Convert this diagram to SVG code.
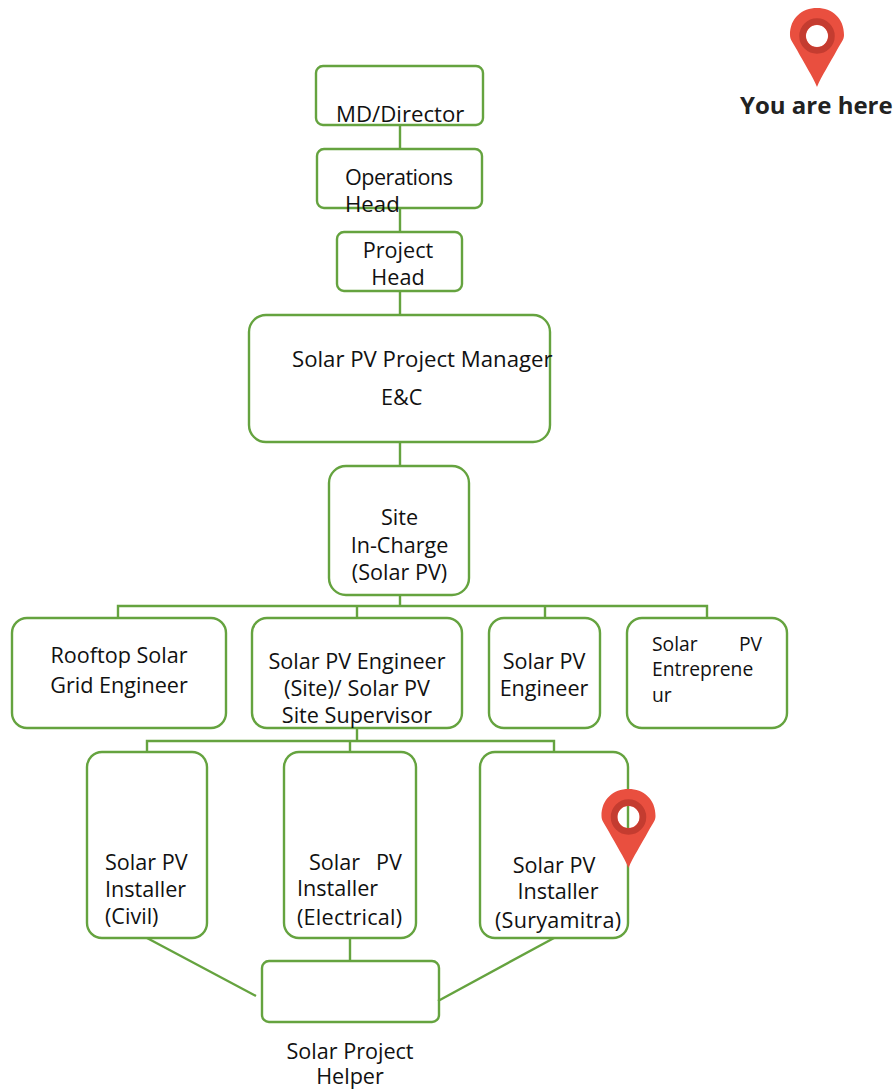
<svg xmlns="http://www.w3.org/2000/svg" width="895" height="1090" viewBox="0 0 895 1090">
<style>
.b{fill:none;stroke:#65a33f;stroke-width:2.4}
.c{fill:none;stroke:#65a33f;stroke-width:2.4}
text{font-family:"Open Sans","Liberation Sans",sans-serif;font-size:21.6px;fill:#111}
.m{text-anchor:middle}
.s{font-size:19.3px}
.w{font-size:22.2px}
.pin{fill:#e94f3f;fill-rule:evenodd}
.ring{fill:none;stroke:#c43c30;stroke-width:6.5}
</style>
<defs>
<g id="pin">
<path class="pin" d="M0 51C-4 41-13 27-20 14-24 6.500-27 4-27-1-27-18-15-28 0-28 15-28 27-18 27-1 27 4 24 6.500 20 14 13 27 4 41 0 51ZM11 0A11 11 0 1 0-11 0 11 11 0 1 0 11 0Z"/>
<circle class="ring" r="14.500"/>
</g>
</defs>
<g id="connectors">
<path class="c" d="M400 125V149M400 208V232M400 291V315M400 442V466M400 595V606M118 618V606H707V618M357 606V618M545 606V618M357 728V741M147 752V741H554V752M350 741V752M147 938L256 996M350 938V961M554 938L438 1001"/>
</g>
<g id="md"><rect class="b" x="316" y="66" width="167" height="59" rx="7"/><text class="w" x="336" y="122">MD/Director</text></g>
<g id="ops"><rect class="b" x="317" y="149" width="165" height="59" rx="7"/><text x="345" y="185" textLength="108">Operations</text><text class="w" x="345" y="212">Head</text></g>
<g id="project-head"><rect class="b" x="337" y="232" width="125" height="59" rx="7"/><text class="m" x="398" y="258">Project</text><text class="m" x="398" y="285">Head</text></g>
<g id="pm"><rect class="b" x="249" y="315" width="301" height="127" rx="17"/><text class="w" x="292" y="367">Solar PV Project Manager</text><text x="381" y="405">E&amp;C</text></g>
<g id="site"><rect class="b" x="329" y="466" width="140" height="129" rx="17"/><text class="m" x="399.500" y="525">Site</text><text class="m" x="399.500" y="553">In-Charge</text><text class="m" x="399.500" y="580">(Solar PV)</text></g>
<g id="rooftop"><rect class="b" x="12" y="618" width="214" height="110" rx="15"/><text class="m" x="119" y="663">Rooftop Solar</text><text class="m" x="119" y="693">Grid Engineer</text></g>
<g id="engineer-site"><rect class="b" x="252" y="618" width="210" height="110" rx="15"/><text class="m" x="357" y="669">Solar PV Engineer</text><text class="m" x="357" y="696">(Site)/ Solar PV</text><text class="m" x="357" y="723">Site Supervisor</text></g>
<g id="engineer"><rect class="b" x="489" y="618" width="111" height="110" rx="15"/><text class="m" x="544" y="669">Solar PV</text><text class="m" x="544" y="696">Engineer</text></g>
<g id="entrepreneur"><rect class="b" x="627" y="618" width="160" height="110" rx="15"/><text class="s" x="652" y="651">Solar</text><text class="s" x="739" y="651">PV</text><text class="s" x="652" y="676">Entreprene</text><text class="s" x="652" y="702">ur</text></g>
<g id="civil"><rect class="b" x="87" y="752" width="120" height="186" rx="15"/><text x="105" y="870">Solar PV</text><text x="105" y="897">Installer</text><text x="105" y="924">(Civil)</text></g>
<g id="electrical"><rect class="b" x="284" y="752" width="132" height="186" rx="15"/><text x="309" y="870">Solar</text><text x="376" y="870">PV</text><text x="297" y="896">Installer</text><text x="297" y="925" textLength="105">(Electrical)</text></g>
<g id="suryamitra"><rect class="b" x="480" y="752" width="148" height="186" rx="15"/><text class="m" x="554" y="873">Solar PV</text><text class="m" x="558" y="899">Installer</text><text x="495" y="928" textLength="126">(Suryamitra)</text></g>
<g id="helper"><rect class="b" x="262" y="961" width="177" height="61" rx="7"/><text class="m" x="350" y="1059">Solar Project</text><text class="m" x="350" y="1084">Helper</text></g>
<use href="#pin" x="817" y="36"/>
<use href="#pin" x="628.500" y="817"/>
<text id="here" x="740" y="114" style="font-size:24px;font-weight:700;fill:#222">You are here</text>
</svg>
